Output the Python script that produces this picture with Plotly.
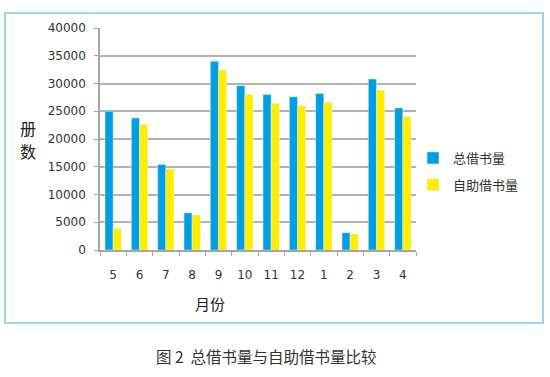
import plotly.graph_objects as go

months = ["5", "6", "7", "8", "9", "10", "11", "12", "1", "2", "3", "4"]
total = [25000, 23800, 15400, 6700, 34000, 29600, 28000, 27600, 28200, 3100, 30800, 25600]
self_service = [3900, 22600, 14600, 6300, 32400, 28000, 26400, 26000, 26600, 2900, 28800, 24000]
y_ticks = [0, 5000, 10000, 15000, 20000, 25000, 30000, 35000, 40000]
y_tick_text = ["0", "5000", "10000", "15000", "20000", "25000", "30000", "35000", "40000"]

BLUE = "#009fe3"
YELLOW = "#ffee00"

# plot area in pixels
L, R, T, B = 100, 416, 28, 250
W, H = 550, 377
pw, ph = R - L, B - T

def px(x):
    return (x - L) / pw

def py(y):
    return (B - y) / ph

fig = go.Figure()
fig.add_trace(go.Bar(x=months, y=total, name="总借书量", marker_color=BLUE,
                     legendgroup="a"))
fig.add_trace(go.Bar(x=months, y=self_service, name="自助借书量", marker_color=YELLOW,
                     legendgroup="b"))

font = "DejaVu Sans, Noto Sans CJK SC, sans-serif"
cjk = "Noto Sans CJK SC, sans-serif"

fig.update_layout(
    width=W, height=H,
    margin=dict(l=L, r=W - R, t=T, b=H - B, autoexpand=False),
    paper_bgcolor="white", plot_bgcolor="white",
    barmode="group", bargap=0.38, bargroupgap=0,
    showlegend=True,
    legend=dict(x=px(413), y=py(143), xanchor="left", yanchor="top",
                font=dict(family=cjk, size=13, color="#333333"),
                itemwidth=30, tracegroupgap=7, bgcolor="rgba(0,0,0,0)"),
    xaxis=dict(type="category", showgrid=False, showline=True, linecolor="#a6a6a6",
               linewidth=1.5, ticks="outside", tickson="boundaries", ticklen=4,
               tickcolor="#a6a6a6", tickfont=dict(family=font, size=12, color="#333333"),
               ticklabelstandoff=13, automargin=False),
    yaxis=dict(range=[0, 40000], tickvals=y_ticks, ticktext=y_tick_text,
               showgrid=True, gridcolor="#b3b3b3",
               gridwidth=1.5, showline=True, linecolor="#a6a6a6", linewidth=1.5,
               ticks="outside", ticklen=4, tickcolor="#a6a6a6",
               tickfont=dict(family=font, size=12, color="#333333"), zeroline=False,
               ticklabelstandoff=6, automargin=False),
    shapes=[dict(type="rect", xref="paper", yref="paper",
                 x0=px(5), x1=px(543), y0=py(323), y1=py(13),
                 line=dict(color="#7cc8ef", width=1.5), layer="below")],
    annotations=[
        dict(text="册", xref="paper", yref="paper", x=px(28), y=py(128),
             showarrow=False, font=dict(family=cjk, size=16, color="#222222"),
             xanchor="center", yanchor="middle"),
        dict(text="数", xref="paper", yref="paper", x=px(28), y=py(151),
             showarrow=False, font=dict(family=cjk, size=16, color="#222222"),
             xanchor="center", yanchor="middle"),
        dict(text="月份", xref="paper", yref="paper", x=px(210), y=py(303),
             showarrow=False, font=dict(family=cjk, size=15, color="#222222"),
             xanchor="center", yanchor="middle"),
        dict(text="图 2  总借书量与自助借书量比较", xref="paper", yref="paper",
             x=px(266), y=py(356), showarrow=False,
             font=dict(family=cjk, size=15.5, color="#333333"),
             xanchor="center", yanchor="middle"),
    ],
)

fig.write_html("out.html", config={"displayModeBar": False},
               post_script="document.body.style.margin='0';")
